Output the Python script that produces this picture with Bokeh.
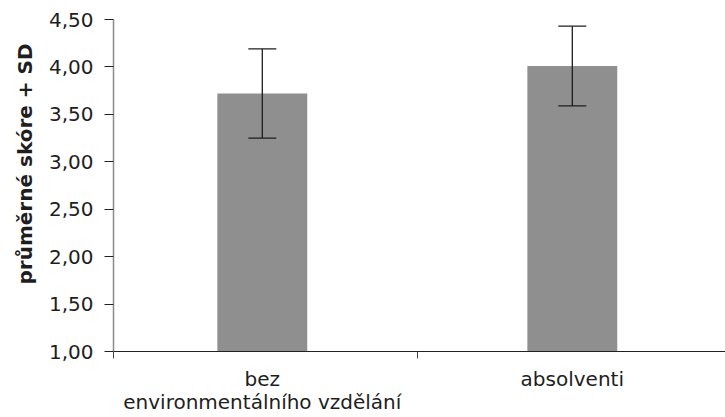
from bokeh.plotting import figure
from bokeh.models import (ColumnDataSource, FixedTicker, Range1d, Whisker,
                          TeeHead, Title)
from bokeh.embed import file_html
from bokeh.resources import INLINE

# Mean score (bar) and standard deviation (error bar) per group
categories = ["bez\nenvironmentálního vzdělání", "absolventi"]
means = [3.72, 4.01]
sds = [0.47, 0.42]

y_ticks = [1.0, 1.5, 2.0, 2.5, 3.0, 3.5, 4.0, 4.5]
y_tick_labels = ["1,00", "1,50", "2,00", "2,50", "3,00", "3,50", "4,00", "4,50"]
y_title = "průměrné skóre + SD"

FONT = "DejaVu Sans"
TEXT = "#1e1e1e"
BAR = "#8f8f8f"

# each category occupies one unit on the x axis, bar in its middle
xs = [i + 0.5 for i in range(len(categories))]
X0 = 0.02
src = ColumnDataSource(dict(
    x=xs,
    top=means,
    upper=[m + s for m, s in zip(means, sds)],
    lower=[m - s for m, s in zip(means, sds)],
))

p = figure(width=725, height=417,
           x_range=Range1d(X0, X0 + 612 / 310),
           y_range=Range1d(y_ticks[0], y_ticks[-1]),
           output_backend="svg", toolbar_location=None,
           min_border_left=113, min_border_right=0,
           min_border_top=19, min_border_bottom=60)
p.outline_line_color = None
p.xgrid.grid_line_color = None
p.ygrid.grid_line_color = None
p.background_fill_color = "white"
p.border_fill_color = "white"

p.vbar(x="x", top="top", bottom=y_ticks[0], width=0.29, source=src,
       fill_color=BAR, line_color=None)

head = dict(size=28, line_color=TEXT, line_width=1.3)
p.add_layout(Whisker(base="x", upper="upper", lower="lower", source=src,
                     line_color=TEXT, line_width=1.3, level="annotation",
                     upper_head=TeeHead(**head), lower_head=TeeHead(**head)))

# x axis: category names under the bars, separator ticks between groups
xa = p.xaxis[0]
xa.ticker = FixedTicker(ticks=xs, minor_ticks=[X0, 1.0])
xa.major_label_overrides = {x: c for x, c in zip(xs, categories)}
xa.major_tick_out = 0
xa.major_tick_in = 0
xa.minor_tick_out = 7
xa.minor_tick_in = 0
xa.minor_tick_line_color = "#444444"
xa.axis_line_color = "#222222"
xa.axis_line_width = 1.2
xa.major_label_standoff = 8
xa.major_label_text_font = FONT
xa.major_label_text_font_size = "20px"
xa.major_label_text_color = TEXT
xa.major_label_text_line_height = 0.98

# y axis with comma decimal labels
ya = p.yaxis[0]
ya.ticker = FixedTicker(ticks=y_ticks, minor_ticks=[])
ya.major_label_overrides = {t: s for t, s in zip(y_ticks, y_tick_labels)}
ya.major_tick_out = 9
ya.major_tick_in = 0
ya.major_tick_line_color = "#222222"
ya.major_tick_line_width = 1.2
ya.axis_line_color = "#8a8a8a"
ya.axis_line_width = 1.5
ya.major_label_standoff = 11
ya.major_label_text_font = FONT
ya.major_label_text_font_size = "20px"
ya.major_label_text_color = TEXT

# vertical axis title, set further out than the tick labels
p.add_layout(Title(text=y_title, align="right", offset=24, standoff=17,
                   text_font=FONT, text_font_size="20px",
                   text_font_style="bold", text_color=TEXT), "left")

open("out.html", "w").write(file_html(p, INLINE))
